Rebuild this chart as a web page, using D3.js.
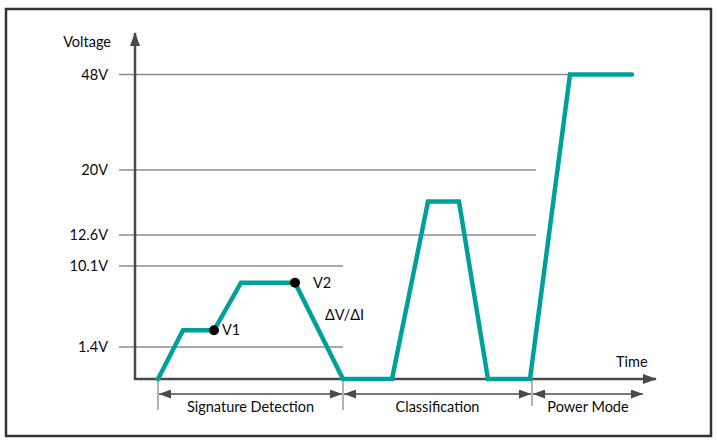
<!DOCTYPE html>
<html>
<head>
<meta charset="utf-8">
<script src="https://cdn.jsdelivr.net/npm/d3@7"></script>
<style>
  body { margin: 0; background: #fff; }
  text { font-family: Lato, "Open Sans", sans-serif; fill: #0a0a0a; }
</style>
</head>
<body>
<svg id="chart" width="717" height="442"></svg>
<script>
// voltage levels shown on the y axis
const levels = [1.4, 10.1, 12.6, 20, 48];
const levelLabels = ["1.4V", "10.1V", "12.6V", "20V", "48V"];
// how far (in time) each reference line runs
const levelEnds = [208, 208, 401, 401, 435];

// the PoE voltage waveform: time, volts
const sigTime = [23, 48, 79, 106, 160, 208, 257, 293, 324, 353, 395, 435, 497];
const sigVolt = [0, 3.2, 3.2, 8.3, 8.3, 0, 0, 16.4, 16.4, 0, 0, 48, 48];

// marked points
const markTime = [79, 160];
const markVolt = [3.2, 8.3];
const markLabels = ["V1", "V2"];
const markGap = [8, 18];

// phases along the time axis
const phaseNames = ["Signature Detection", "Classification", "Power Mode"];
const phaseEdges = [23, 208, 397, 509];

const teal = "#00a09a";
const axisColor = "#4a4a4a";
const gridColor = "#8c8c8c";
const fontSize = 14.5;

const svg = d3.select("#chart");

const x = d3.scaleLinear().domain([0, 520]).range([135, 655]);
// the picture is not to scale: piecewise scale through the labelled levels
const y = d3.scaleLinear()
  .domain([0, 1.4, 10.1, 12.6, 20, 48])
  .range([379, 347, 266, 235, 170, 74.5]);

const defs = svg.append("defs");
defs.append("marker")
  .attr("id", "axisHead")
  .attr("viewBox", "0 0 14 10")
  .attr("refX", 13).attr("refY", 5)
  .attr("markerUnits", "userSpaceOnUse")
  .attr("markerWidth", 14).attr("markerHeight", 10)
  .attr("orient", "auto")
  .append("path").attr("d", "M0,0 L14,5 L0,10 Z").attr("fill", axisColor);
defs.append("marker")
  .attr("id", "dimHead")
  .attr("viewBox", "0 0 12 9")
  .attr("refX", 12).attr("refY", 4.5)
  .attr("markerUnits", "userSpaceOnUse")
  .attr("markerWidth", 12).attr("markerHeight", 9)
  .attr("orient", "auto-start-reverse")
  .append("path").attr("d", "M0,0 L12,4.5 L0,9 Z").attr("fill", axisColor);

// frame
svg.append("rect")
  .attr("x", 6).attr("y", 9).attr("width", 705).attr("height", 427)
  .attr("fill", "none").attr("stroke", "#333").attr("stroke-width", 2.5);

// reference lines + labels
const grid = svg.append("g");
levels.forEach((v, i) => {
  grid.append("line")
    .attr("x1", 119).attr("x2", x(levelEnds[i]))
    .attr("y1", y(v)).attr("y2", y(v))
    .attr("stroke", gridColor).attr("stroke-width", 1.5);
  grid.append("text")
    .attr("x", 108).attr("y", y(v) + 5)
    .attr("text-anchor", "end").attr("font-size", fontSize)
    .text(levelLabels[i]);
});

// axes
svg.append("line")
  .attr("x1", x(0)).attr("x2", x(0))
  .attr("y1", y(0) + 1).attr("y2", 33)
  .attr("stroke", axisColor).attr("stroke-width", 2.5)
  .attr("marker-end", "url(#axisHead)");
svg.append("line")
  .attr("x1", x(0) - 1).attr("x2", 656)
  .attr("y1", y(0)).attr("y2", y(0))
  .attr("stroke", axisColor).attr("stroke-width", 2.5)
  .attr("marker-end", "url(#axisHead)");
svg.append("text").attr("x", 111).attr("y", 47)
  .attr("text-anchor", "end").attr("font-size", fontSize).text("Voltage");
svg.append("text").attr("x", 616).attr("y", 367)
  .attr("font-size", fontSize).text("Time");

// phase dimension lines
const phases = svg.append("g");
phaseEdges.slice(0, 3).forEach((t) => {
  phases.append("line")
    .attr("x1", x(t)).attr("x2", x(t))
    .attr("y1", y(0)).attr("y2", t === phaseEdges[2] ? 406 : 410)
    .attr("stroke", "#999").attr("stroke-width", 1.5);
});
phaseNames.forEach((name, i) => {
  const a = x(phaseEdges[i]), b = x(phaseEdges[i + 1]);
  phases.append("line")
    .attr("x1", a + 1).attr("x2", b - 1)
    .attr("y1", 394).attr("y2", 394)
    .attr("stroke", axisColor).attr("stroke-width", 1.5)
    .attr("marker-start", "url(#dimHead)")
    .attr("marker-end", "url(#dimHead)");
  phases.append("text")
    .attr("x", (a + b) / 2).attr("y", 412)
    .attr("text-anchor", "middle").attr("font-size", fontSize)
    .text(name);
});

// waveform
const line = d3.line()
  .x((d, i) => x(sigTime[i]))
  .y((d) => y(d));
svg.append("path")
  .datum(sigVolt)
  .attr("d", line)
  .attr("fill", "none")
  .attr("stroke", teal).attr("stroke-width", 4.5)
  .attr("stroke-linejoin", "miter").attr("stroke-linecap", "round");

// V1 / V2 points
markTime.forEach((t, i) => {
  svg.append("circle")
    .attr("cx", x(t)).attr("cy", y(markVolt[i])).attr("r", 5)
    .attr("fill", "#000");
  svg.append("text")
    .attr("x", x(t) + markGap[i]).attr("y", y(markVolt[i]) + 5)
    .attr("font-size", fontSize).text(markLabels[i]);
});
svg.append("text").attr("x", 325).attr("y", 320)
  .attr("font-size", fontSize).text("\u0394V/\u0394I");
</script>
</body>
</html>
